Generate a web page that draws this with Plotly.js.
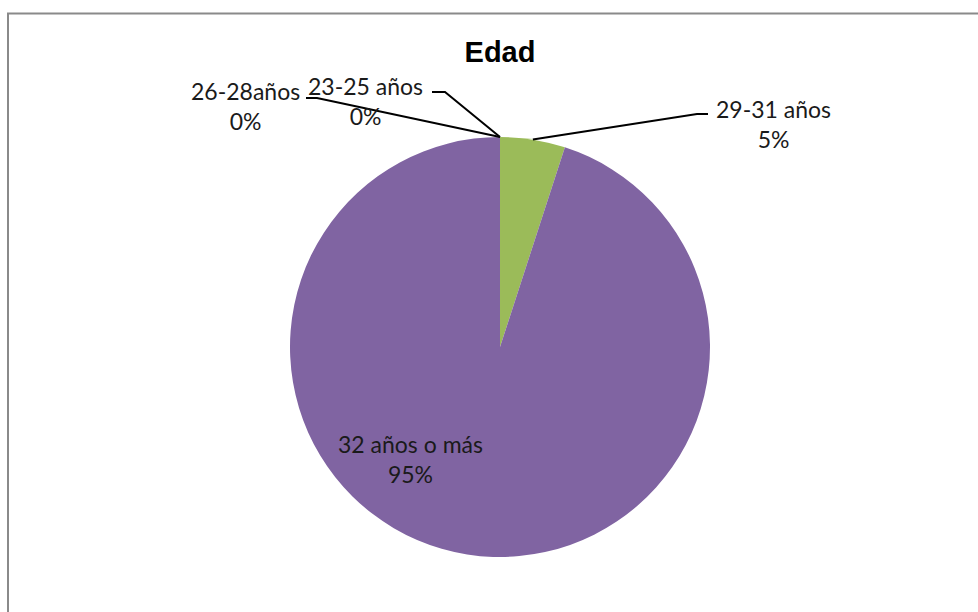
<!DOCTYPE html>
<html>
<head>
<meta charset="utf-8">
<script src="https://cdn.plot.ly/plotly-3.0.1.min.js"></script>
<style>html,body{margin:0;padding:0;background:#fff;}#chart{width:978px;height:612px;}</style>
</head>
<body>
<div id="chart"></div>
<script>
const categories = ['23-25 años', '26-28años', '29-31 años', '32 años o más'];
const values = [0, 0, 5, 95];
const percentLabels = ['0%', '0%', '5%', '95%'];
const colors = ['#4F81BD', '#C0504D', '#9BBB59', '#8064A2'];

const W = 978, H = 612;
const cx = 500, cy = 347, R = 210;
const px = x => x / W;
const py = y => 1 - y / H;

// label placement (pixels): text center and leader elbow points
const labelPos = [
  {x: 365, y: 101, elbow: [[445, 92], [432, 92]]},
  {x: 245, y: 106, elbow: [[317, 98], [306, 98]]},
  {x: 773, y: 124, elbow: [[697, 114], [708, 114]]},
  {x: 410, y: 459, elbow: null}
];

const total = values.reduce((a, b) => a + b, 0);
let cum = 0;
const annotations = [];
const shapes = [];
categories.forEach((c, i) => {
  const mid = (cum + values[i] / 2) / total * 2 * Math.PI;
  cum += values[i];
  const sx = cx + R * Math.sin(mid), sy = cy - R * Math.cos(mid);
  const lp = labelPos[i];
  annotations.push({
    xref: 'paper', yref: 'paper', x: px(lp.x), y: py(lp.y),
    xanchor: 'center', yanchor: 'middle', showarrow: false, align: 'center',
    text: c + '<br>' + percentLabels[i],
    font: {family: 'Lato, "Noto Sans", sans-serif', size: 23, color: '#1a1a1a'}
  });
  if (lp.elbow) {
    const p = 'M' + px(sx) + ',' + py(sy) + ' L' + px(lp.elbow[0][0]) + ',' + py(lp.elbow[0][1]) +
      ' L' + px(lp.elbow[1][0]) + ',' + py(lp.elbow[1][1]);
    shapes.push({type: 'path', xref: 'paper', yref: 'paper', path: p, line: {color: '#000', width: 2}});
  }
});

shapes.push({type: 'rect', xref: 'paper', yref: 'paper', x0: px(8), x1: px(1000), y0: py(13.5), y1: py(640),
  line: {color: '#8a8a8a', width: 2}, fillcolor: 'rgba(0,0,0,0)', layer: 'below'});

const data = [{
  type: 'pie',
  labels: categories,
  values: values,
  marker: {colors: colors, line: {width: 0}},
  sort: false,
  direction: 'clockwise',
  rotation: 0,
  textinfo: 'none',
  hoverinfo: 'skip',
  domain: {x: [px(cx - R), px(cx + R)], y: [py(cy + R), py(cy - R)]}
}];

const layout = {
  width: W, height: H,
  margin: {l: 0, r: 0, t: 0, b: 0},
  paper_bgcolor: '#fff',
  showlegend: false,
  title: {text: '<b>Edad</b>', x: px(500), xanchor: 'center', y: py(52), yanchor: 'middle',
    font: {family: '"Liberation Sans", Arial, sans-serif', size: 29, color: '#000'}},
  annotations: annotations,
  shapes: shapes
};

Plotly.newPlot('chart', data, layout, {staticPlot: true});
</script>
</body>
</html>
